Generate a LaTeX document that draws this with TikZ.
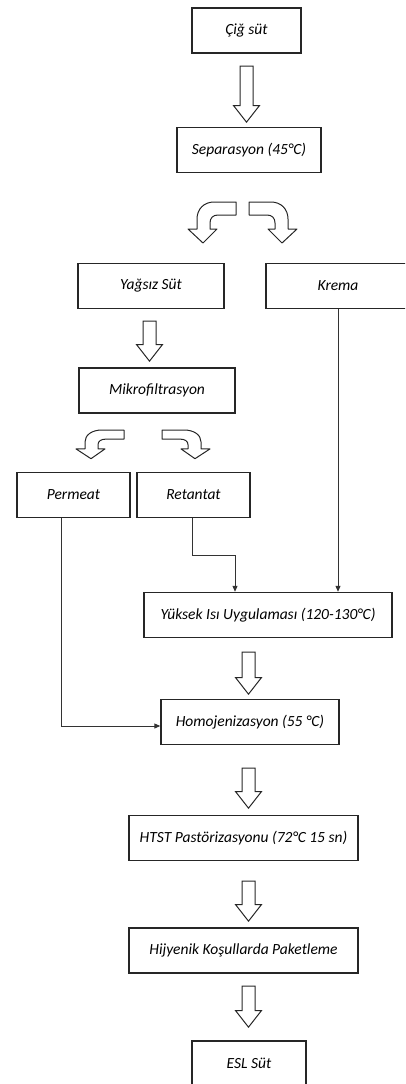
\documentclass[tikz,border=0pt]{standalone}
\usepackage{fontspec}
\setmainfont{Carlito}
\usetikzlibrary{shapes.arrows, arrows.meta}

\begin{document}
\begin{tikzpicture}[x=1pt, y=-1pt,
  box/.style={draw=black!85, line width=1.4pt, inner sep=0pt, minimum height=45pt,
    font=\itshape\fontsize{15.5}{17}\selectfont},
  fatarrow/.style={single arrow, draw=black!85, line width=1pt, shape border rotate=270,
    inner sep=6pt, minimum width=25pt, single arrow head extend=6.5pt,
    single arrow tip angle=76},
  link/.style={draw=black!80, line width=1pt, -{Triangle[length=6pt, width=5pt]}},
  bentarrow/.pic={
    \draw[draw=black!85, line width=1pt, line join=round]
      (0,0) -- (-22,0) .. controls (-32,0) and (-39,7) .. (-39,17) -- (-39,27)
      -- (-48,27) -- (-33,41) -- (-19,27) -- (-26,27) -- (-26,21)
      .. controls (-26,16) and (-23,13) .. (-18,13) -- (0,13) -- cycle;
  }]
  \clip (0,0) rectangle (405,1084);

  % main line
  \node[box, minimum width=109pt] (cig) at (246.5,30.5) {Çiğ süt};
  \node[fatarrow, minimum height=56pt] (a1) at (246.5,90) {};
  \node[box, minimum width=144pt] (sep) at (249,150) {Separasyon (45°C)};
  \pic at (236,202) {bentarrow};
  \pic[xscale=-1] at (249,202) {bentarrow};

  \node[box, minimum width=146pt] (yag) at (151,286) {Yağsız Süt};
  \node[box, minimum width=144pt] (krema) at (338,286) {Krema};
  \node[fatarrow, minimum height=40pt] (a2) at (149.5,337) {};
  \node[box, minimum width=156pt] (mikro) at (157,390.5) {Mikrofiltrasyon};
  \pic[yscale=0.7] at (124,430) {bentarrow};
  \pic[xscale=-1, yscale=0.7] at (162,430) {bentarrow};

  \node[box, minimum width=113pt] (perm) at (73.5,495) {Permeat};
  \node[box, minimum width=113pt] (ret) at (193.5,495) {Retantat};

  \node[box, minimum width=248pt] (yuk) at (268,615) {Yüksek Isı Uygulaması (120-130°C)};
  \node[fatarrow, minimum height=42pt] (a3) at (248.5,669) {};
  \node[box, minimum width=178pt] (homo) at (250,722) {Homojenizasyon (55 °C)};
  \node[fatarrow, minimum height=40pt] (a4) at (248.5,784) {};
  \node[box, minimum width=229pt] (htst) at (243.5,838) {HTST Pastörizasyonu (72°C 15 sn)};
  \node[fatarrow, minimum height=40pt] (a5) at (248.5,897) {};
  \node[box, minimum width=229pt] (hij) at (243.5,950.5) {Hijyenik Koşullarda Paketleme};
  \node[fatarrow, minimum height=41pt] (a6) at (248.5,1002.5) {};
  \node[box, minimum width=114pt] (esl) at (249,1063.5) {ESL Süt};

  % side streams
  \draw[link] ([xshift=-1.5pt]ret.south) -- ++(0,37) -| ([xshift=-33pt]yuk.north);
  \draw[link] (krema.south) -- (krema.south |- yuk.north);
  \draw[link] ([xshift=-12.5pt]perm.south) |- ([yshift=-4pt]homo.west);
\end{tikzpicture}
\end{document}
